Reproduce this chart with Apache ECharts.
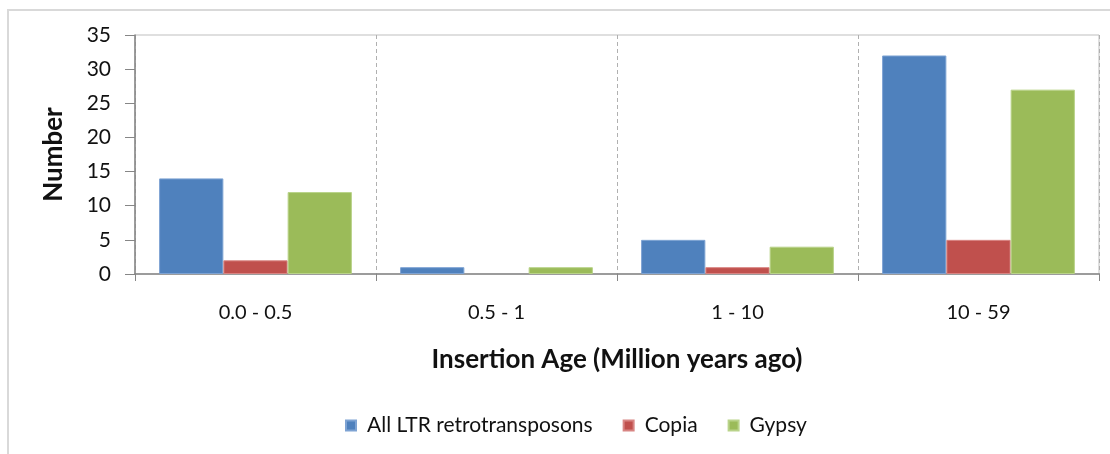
<!DOCTYPE html>
<html>
<head>
<meta charset="utf-8">
<script src="https://cdn.jsdelivr.net/npm/echarts@6/dist/echarts.min.js"></script>
<style>
html,body{margin:0;padding:0;background:#fff;}
#chart{width:1110px;height:454px;}
</style>
</head>
<body>
<div id="chart"></div>
<script>
const categories = ['0.0 - 0.5', '0.5 - 1', '1 - 10', '10 - 59'];
const seriesNames = ['All LTR retrotransposons', 'Copia', 'Gypsy'];
const allLTR = [14, 1, 5, 32];
const copia = [2, 0, 1, 5];
const gypsy = [12, 1, 4, 27];
const yTicks = [0, 5, 10, 15, 20, 25, 30, 35];
const xAxisTitle = 'Insertion Age (Million years ago)';
const yAxisTitle = 'Number';

const colors = ['#4f81bd', '#c0504d', '#9bbb59'];
const borders = ['#7ea3d3', '#d88583', '#b9d38a'];
const font = 'Lato, "Open Sans", sans-serif';

const chart = echarts.init(document.getElementById('chart'));
const values = [allLTR, copia, gypsy];
chart.setOption({
  animation: false,
  textStyle: { fontFamily: font },
  graphic: [{
    type: 'rect', left: 7, top: 9, z: -10,
    shape: { width: 1120, height: 460 },
    style: { fill: '#fff', stroke: '#d9d9d9', lineWidth: 2 }
  }],
  legend: {
    bottom: 13, left: 340,
    icon: 'rect', itemWidth: 10, itemHeight: 10, itemGap: 30,
    textStyle: { fontSize: 21, color: '#111', fontFamily: font, padding: [0, 0, 0, 6] },
    data: seriesNames
  },
  grid: {
    left: 135, top: 35, right: 11, bottom: 180,
    show: true, borderColor: '#bfbfbf', borderWidth: 1, backgroundColor: 'transparent'
  },
  xAxis: {
    type: 'category',
    data: categories,
    name: xAxisTitle,
    nameLocation: 'middle',
    nameGap: 73,
    nameTextStyle: { fontSize: 26, fontWeight: 'bold', color: '#111', fontFamily: font },
    axisLine: { lineStyle: { color: '#868686', width: 1.5 } },
    axisTick: { show: true, length: 7, lineStyle: { color: '#868686' } },
    axisLabel: { fontSize: 20, color: '#111', margin: 29, fontFamily: font },
    splitLine: { show: true, lineStyle: { color: '#b0b0b0', type: [4, 3], width: 1 } }
  },
  yAxis: {
    type: 'value',
    min: 0, max: 35, interval: 5,
    name: yAxisTitle,
    nameLocation: 'middle',
    nameRotate: 90,
    nameGap: 68,
    nameTextStyle: { fontSize: 26, fontWeight: 'bold', color: '#111', fontFamily: font },
    axisLine: { show: true, lineStyle: { color: '#868686', width: 1.5 } },
    axisTick: { show: true, length: 10, lineStyle: { color: '#868686' } },
    axisLabel: {
      fontSize: 21, color: '#111', margin: 24, fontFamily: font,
      formatter: v => yTicks.includes(v) ? String(v) : ''
    },
    splitLine: { show: false }
  },
  series: seriesNames.map((name, i) => ({
    name: name,
    type: 'bar',
    data: values[i].map(v => v === 0 ? { value: v, itemStyle: { borderWidth: 0 } } : v),
    barGap: '0%',
    barCategoryGap: '20%',
    itemStyle: { color: colors[i], borderColor: borders[i], borderWidth: 1 }
  }))
});
</script>
</body>
</html>
